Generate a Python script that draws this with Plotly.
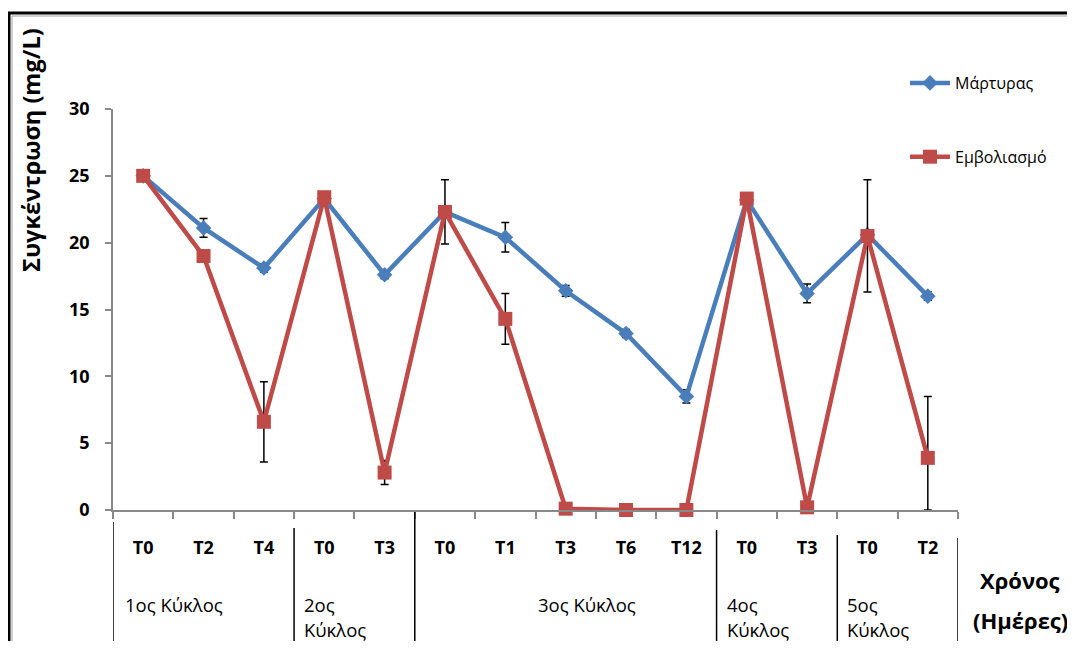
import plotly.graph_objects as go

# ---- data ----
sub_labels = ["T0", "T2", "T4", "T0", "T3", "T0", "T1", "T3", "T6", "T12", "T0", "T3", "T0", "T2"]
group_lines = [["1ος Κύκλος"], ["2ος", "Κύκλος"], ["3ος Κύκλος"], ["4ος", "Κύκλος"], ["5ος", "Κύκλος"]]
group_spans = [(0, 2), (3, 4), (5, 9), (10, 11), (12, 13)]

control_name = "Μάρτυρας"
control = [25.0, 21.1, 18.1, 23.3, 17.6, 22.3, 20.4, 16.4, 13.2, 8.5, 23.2, 16.2, 20.6, 16.0]
control_err = [0.0, 0.7, 0.3, 0.0, 0.3, 0.0, 1.1, 0.4, 0.3, 0.5, 0.0, 0.7, 0.0, 0.3]

inoc_name = "Εμβολιασμό"
inoc = [25.0, 19.0, 6.6, 23.4, 2.8, 22.3, 14.3, 0.1, 0.0, 0.0, 23.3, 0.2, 20.5, 3.9]
inoc_err = [0.0, 0.0, 3.0, 0.0, 0.9, 2.4, 1.9, 0.0, 0.0, 0.0, 0.0, 0.0, 4.2, 4.6]

y_title = "Συγκέντρωση (mg/L)"
x_title_lines = ["Χρόνος", "(Ημέρες)"]
y_ticks = [0, 5, 10, 15, 20, 25, 30]

FONT = "Open Sans"
BLUE = "#4A7EBB"
RED = "#BE4B48"

# figure geometry (figure px; page has an 8px body margin)
OFF = 8
W, H = 1059, 633
L, R, T, B = 105, 950, 101, 502
pw, ph = R - L, B - T


def sx(xs):  # screenshot x -> paper
    return (xs - OFF - L) / pw


def sy(ys):  # screenshot y -> paper
    return (B - (ys - OFF)) / ph


x = list(range(len(sub_labels)))
inoc_err_minus = [min(e, v) for e, v in zip(inoc_err, inoc)]

fig = go.Figure()
fig.add_trace(go.Scatter(
    x=x, y=control, name=control_name, legendgroup="a", mode="lines+markers",
    line=dict(color=BLUE, width=4.5),
    marker=dict(symbol="diamond", size=12, color=BLUE),
    error_y=dict(type="data", array=control_err, color="black", thickness=1.5, width=4),
    cliponaxis=False,
))
fig.add_trace(go.Scatter(
    x=x, y=inoc, name=inoc_name, legendgroup="b", mode="lines+markers",
    line=dict(color=RED, width=4.5),
    marker=dict(symbol="square", size=14, color=RED),
    error_y=dict(type="data", symmetric=False, array=inoc_err, arrayminus=inoc_err_minus,
                 color="black", thickness=1.5, width=4),
    cliponaxis=False,
))

shapes = []
# group separators below the axis
bounds = [-0.5] + [s[1] + 0.5 for s in group_spans]
sep_top = [522, 528, 512, 530, 535, 538]
for b, top in zip(bounds, sep_top):
    shapes.append(dict(type="line", xref="x", yref="paper", x0=b, x1=b,
                       y0=sy(top), y1=sy(660), line=dict(color="black", width=1.5)))
# outer frame
shapes.append(dict(type="rect", xref="paper", yref="paper",
                   x0=sx(9), x1=sx(1090), y0=sy(670), y1=sy(13),
                   line=dict(color="black", width=3)))
shapes.append(dict(type="rect", xref="paper", yref="paper",
                   x0=sx(12), x1=sx(1087), y0=sy(670), y1=sy(16),
                   line=dict(color="#a0a0a0", width=1)))

annotations = []
GF = dict(family=FONT, size=18.5, color="black")
for (a, b), lines in zip(group_spans, group_lines):
    if len(lines) == 2:
        for k, t in enumerate(lines):
            annotations.append(dict(xref="x", yref="paper", x=a - 0.5, y=sy(604 + 25 * k),
                                    text=t, showarrow=False, xanchor="left", yanchor="middle",
                                    xshift=8, font=GF))
    elif a == 0:
        annotations.append(dict(xref="x", yref="paper", x=a - 0.5, y=sy(604),
                                text=lines[0], showarrow=False, xanchor="left", yanchor="middle",
                                xshift=10, font=GF))
    else:
        annotations.append(dict(xref="x", yref="paper", x=(a + b) / 2 + 0.35, y=sy(604),
                                text=lines[0], showarrow=False, xanchor="center", yanchor="middle",
                                font=GF))

for k, t in enumerate(x_title_lines):
    annotations.append(dict(xref="paper", yref="paper", x=sx(1020), y=sy(580 + 40 * k), text=t,
                            showarrow=False, xanchor="center", yanchor="middle",
                            font=dict(family=FONT, size=22, color="black", weight="bold")))
annotations.append(dict(xref="paper", yref="paper", x=sx(31), y=sy(150), text=y_title,
                        showarrow=False, textangle=-90, xanchor="center", yanchor="middle",
                        font=dict(family=FONT, size=23.5, color="black", weight="bold")))

fig.update_layout(
    width=W, height=H,
    margin=dict(l=L, r=W - R, t=T, b=H - B),
    paper_bgcolor="white", plot_bgcolor="white",
    showlegend=True,
    legend=dict(x=sx(905), y=sy(66), xanchor="left", yanchor="top",
                tracegroupgap=50, bgcolor="rgba(0,0,0,0)",
                font=dict(family=FONT, size=16, color="black"), itemwidth=40),
    xaxis=dict(
        range=[-0.5, len(x) - 0.5], tickmode="array", tickvals=x, ticktext=sub_labels,
        ticks="", showgrid=False, zeroline=False, showline=True, linecolor="#888888",
        linewidth=1.5, ticklabelstandoff=21,
        tickfont=dict(family=FONT, size=18, color="black", weight="bold"),
        minor=dict(tickmode="linear", tick0=-0.5, dtick=1, ticks="outside", ticklen=7,
                   tickcolor="#888888", tickwidth=1.5, showgrid=False),
    ),
    yaxis=dict(
        range=[0, 30], tickmode="array", tickvals=y_ticks,
        ticks="outside", ticklen=6, tickcolor="#888888", tickwidth=1.5,
        showgrid=False, zeroline=False, showline=True, linecolor="#888888", linewidth=1.5,
        ticklabelstandoff=12,
        tickfont=dict(family=FONT, size=18, color="black", weight="bold"),
    ),
    shapes=shapes,
    annotations=annotations,
)

fig.write_html("out.html")
